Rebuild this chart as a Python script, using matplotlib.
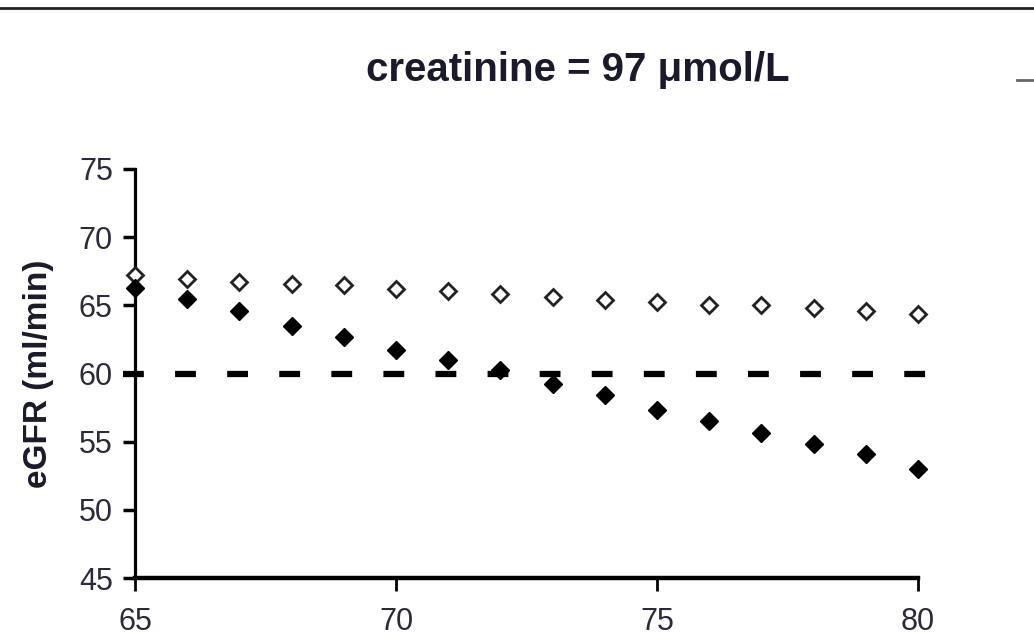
import matplotlib
matplotlib.use("Agg")
import matplotlib.pyplot as plt
from matplotlib.lines import Line2D

# ---- data ----
age = [65, 66, 67, 68, 69, 70, 71, 72, 73, 74, 75, 76, 77, 78, 79, 80]
egfr_open = [67.2, 66.9, 66.7, 66.6, 66.5, 66.2, 66.05, 65.85, 65.6, 65.4,
             65.25, 65.0, 65.05, 64.8, 64.55, 64.4]
egfr_filled = [66.3, 65.45, 64.6, 63.5, 62.7, 61.7, 61.0, 60.25, 59.25, 58.4,
               57.35, 56.55, 55.6, 54.85, 54.1, 53.0]
threshold = 60
x_ticks = [65, 70, 75, 80]
y_ticks = [45, 50, 55, 60, 65, 70, 75]
title = "creatinine = 97 μmol/L"
ylabel = "eGFR (ml/min)"

plt.rcParams['lines.scale_dashes'] = False
fam = ['Liberation Sans', 'DejaVu Sans']
plt.rcParams['font.family'] = fam

W, H = 1034, 644
fig = plt.figure(figsize=(W / 100, H / 100), dpi=100)
ax = fig.add_axes([135 / W, (H - 578) / H, (918 - 135) / W, (578 - 169) / H])

ax.set_xlim(65, 80)
ax.set_ylim(45, 75)

# threshold dashed line (extends slightly beyond the axes)
ax.axhline(threshold, xmin=-0.015, xmax=1.016, color='black', lw=4.5,
           dashes=(15, 22.5), clip_on=False, zorder=2, dash_capstyle='butt')

ax.plot(age, egfr_open, linestyle='none', marker='D', markersize=8.5,
        markerfacecolor='white', markeredgecolor='#222222', markeredgewidth=2,
        clip_on=False, zorder=3)
ax.plot(age, egfr_filled, linestyle='none', marker='D', markersize=9.5,
        markerfacecolor='black', markeredgecolor='black', markeredgewidth=1,
        clip_on=False, zorder=3)

for s in ['top', 'right']:
    ax.spines[s].set_visible(False)
ax.spines['left'].set_linewidth(2.3)
ax.spines['bottom'].set_linewidth(3.2)

ax.set_xticks(x_ticks)
ax.set_yticks(y_ticks)
ax.tick_params(axis='x', direction='out', length=9, width=2, pad=12,
               labelsize=22)
ax.tick_params(axis='y', direction='out', length=9, width=2.5, pad=7,
               labelsize=22)
for lab in ax.get_xticklabels() + ax.get_yticklabels():
    lab.set_color('#2a2a3a')

ax.set_ylabel(ylabel, fontsize=24, fontweight='bold', labelpad=18,
              color='#1a1a2a')
fig.text(578 / W, 1 - 70 / H, title, ha='center', va='center',
         fontsize=29, fontweight='bold', color='#1a1a2a')

# frame decorations
fig.add_artist(Line2D([0, 1], [1 - 8 / H, 1 - 8 / H], color='#222222', lw=2,
                      transform=fig.transFigure))
fig.add_artist(Line2D([1017 / W, 1], [1 - 80 / H, 1 - 80 / H], color='#666666',
                      lw=2, transform=fig.transFigure))

fig.savefig('out.png', dpi=100)
